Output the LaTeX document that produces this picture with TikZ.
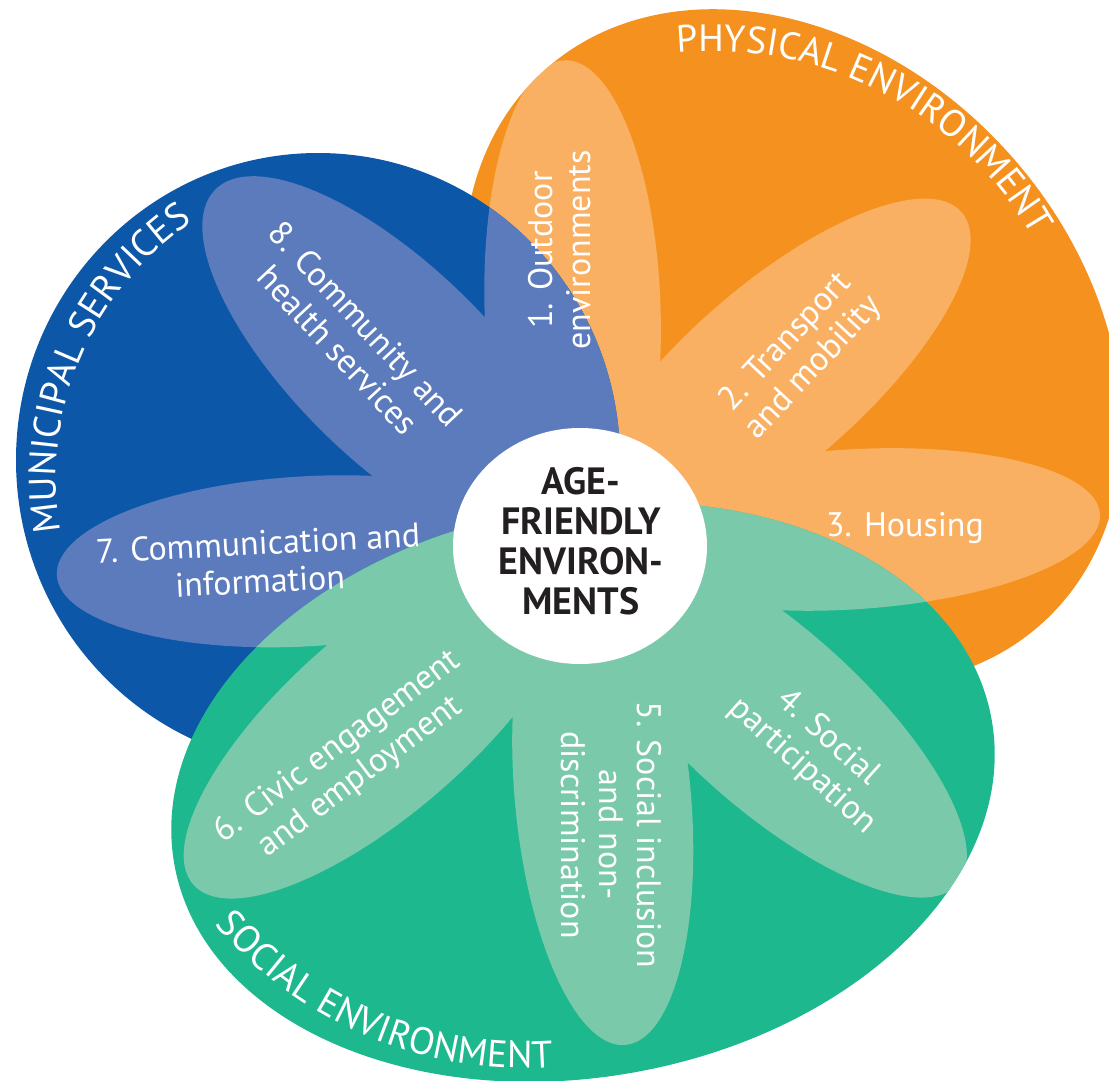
\documentclass[tikz,border=0pt]{standalone}
\usepackage{fontspec}
\setmainfont{PT Sans}
\newfontfamily\condbold{PT Sans}
\usetikzlibrary{decorations.text}
\definecolor{orgC}{HTML}{F5921F}
\definecolor{orgL}{HTML}{F9B062}
\definecolor{bluC}{HTML}{0C57A8}
\definecolor{bluL}{HTML}{5B7BBD}
\definecolor{grnC}{HTML}{1EB88E}
\definecolor{grnL}{HTML}{7BC9AB}
\definecolor{txtD}{HTML}{231F20}
\newcommand{\petalfill}[1]{%
  \foreach \ang/\len/\wid in {91.8/486/88, 41.2/507/90, 3.5/521/80, -41.9/507/90, -84.8/501/88, -138.8/514/92, -176.8/524/85, 135.7/510/98}{%
    \pgfmathsetmacro{\dd}{\len-250}%
    \fill[#1, shift={(580,546)}, rotate=\ang] (\dd,0) ellipse [x radius=250, y radius=\wid];%
  }%
}
\newcommand{\curvfont}{\fontsize{38}{38}\selectfont}
\tikzset{
  petaltext/.style={text=white, align=center, font=\fontsize{34}{38}\selectfont, inner sep=0pt},
  curvtext/.style={decorate, decoration={text along path, text align=center, text color=white, text={|\curvfont|#1}}}
}
\begin{document}
\begin{tikzpicture}[x=1pt,y=-1pt]
\useasboundingbox (0,0) rectangle (1109,1081);
\clip (0,0) rectangle (1109,1081);
% physical environment (orange)
\fill[orgC, rotate around={-48:(793,347)}] (793,347) ellipse [x radius=372, y radius=290];
\begin{scope}
  \clip[rotate around={-48:(793,347)}] (793,347) ellipse [x radius=372, y radius=290];
  \petalfill{orgL}
\end{scope}
% municipal services (blue)
\fill[bluC] (318,460) ellipse [x radius=302, y radius=307];
\begin{scope}
  \clip (318,460) ellipse [x radius=302, y radius=307];
  \petalfill{bluL}
\end{scope}
% social environment (green)
\fill[grnC, rotate around={10:(583,792)}] (583,792) ellipse [x radius=415, y radius=285];
\begin{scope}
  \clip[rotate around={10:(583,792)}] (583,792) ellipse [x radius=415, y radius=285];
  \petalfill{grnL}
\end{scope}
% centre
\fill[white] (580,546) ellipse [x radius=127, y radius=118];
\node[font=\condbold\bfseries\fontsize{38}{40}\selectfont, text=txtD, align=center, inner sep=0pt] (ctr) at (581,541) {AGE-\\FRIENDLY\\ENVIRON-\\MENTS};
% curved titles
\begin{scope}[shift={(712,420)}, y=1pt]
  \path[curvtext={PHYSICAL ENVIRONMENT}] (112.6:369) arc[start angle=112.6, end angle=12.6, radius=369];
\end{scope}
\begin{scope}[shift={(365,479)}, y=1pt]
  \path[curvtext={MUNICIPAL SERVICES}] (206.8:309) arc[start angle=206.8, end angle=106.8, radius=309];
\end{scope}
\begin{scope}[shift={(525,661)}, y=1pt]
  \path[curvtext={SOCIAL ENVIRONMENT}] (207.2:407) arc[start angle=207.2, end angle=287.2, radius=407];
\end{scope}
% petal labels
\node[petaltext, rotate=90] (p1) at (560,250) {1. Outdoor\\environments};
\node[petaltext, rotate=47] (p2) at (800,355) {2. Transport\\and mobility};
\node[petaltext] (p3) at (905,528) {3. Housing};
\node[petaltext, rotate=-42] (p4) at (815,752) {4. Social\\participation};
\node[petaltext, rotate=-90] (p5) at (611,835) {5. Social inclusion\\and non-\\discrimination};
\node[petaltext, rotate=37] (p6) at (349,762) {6. Civic engagement\\and employment};
\node[petaltext, rotate=3] (p7) at (259,562) {7. Communication and\\information};
\node[petaltext, rotate=-47] (p8) at (352,337) {8. Community and\\health services};
\end{tikzpicture}
\end{document}
